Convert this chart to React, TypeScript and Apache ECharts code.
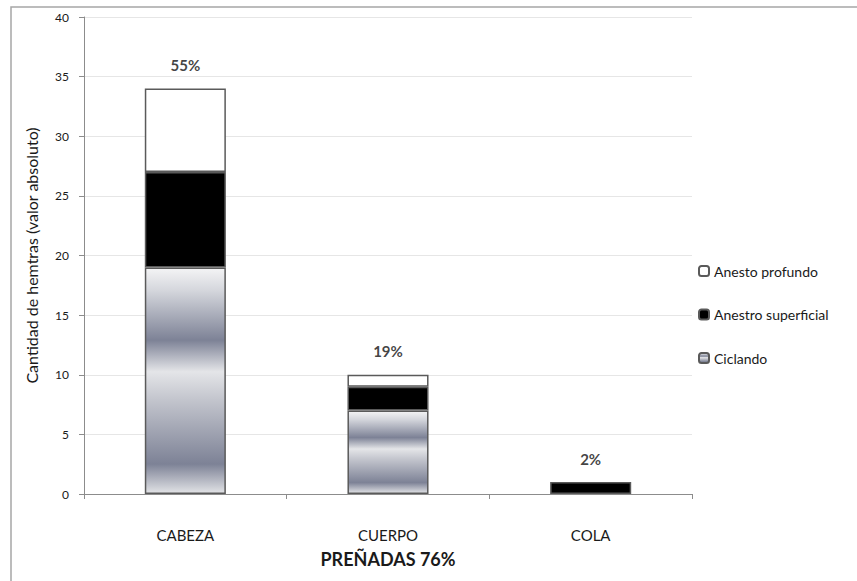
import React, { useEffect, useRef } from "react";
import * as echarts from "echarts";

const categories = ["CABEZA", "CUERPO", "COLA"];
const ciclando = [19, 7, 0];
const anestroSuperficial = [8, 2, 1];
const anestoProfundo = [7, 1, 0];
const totals = [34, 10, 1];
const percentLabels = ["55%", "19%", "2%"];
const yTicks = [0, 5, 10, 15, 20, 25, 30, 35, 40];

const FONT = "Lato, 'Open Sans', sans-serif";

export default function App() {
  const ref = useRef<HTMLDivElement>(null);
  useEffect(() => {
    if (!ref.current) return;
    const chart = echarts.init(ref.current, undefined, { renderer: "svg" });
    const steel = new echarts.graphic.LinearGradient(0, 0, 0, 1, [
      { offset: 0, color: "#f4f4f5" },
      { offset: 0.1, color: "#d4d6dc" },
      { offset: 0.32, color: "#7d8296" },
      { offset: 0.46, color: "#e4e5e8" },
      { offset: 0.58, color: "#c4c6ce" },
      { offset: 0.87, color: "#7d8296" },
      { offset: 1, color: "#e2e3e6" },
    ]);
    const border = { borderColor: "#5a5a5a", borderWidth: 1.5 };
    chart.setOption({
      animation: false,
      backgroundColor: "#ffffff",
      textStyle: { fontFamily: FONT },
      graphic: [
        {
          type: "rect",
          shape: { x: 11, y: 7, width: 900, height: 700 },
          style: { fill: "none", stroke: "#a6a6a6", lineWidth: 1.5 },
          silent: true,
        },
      ],
      grid: { left: 84, right: 165, top: 17, bottom: 87 },
      legend: {
        orient: "vertical",
        left: 693,
        top: 259,
        itemWidth: 10,
        itemHeight: 10,
        itemGap: 29.5,
        data: ["Anesto profundo", "Anestro superficial", "Ciclando"],
        textStyle: { fontFamily: FONT, fontSize: 14, color: "#1a1a1a" },
      },
      xAxis: {
        type: "category",
        data: categories,
        name: "PREÑADAS 76%",
        nameLocation: "middle",
        nameGap: 56,
        nameTextStyle: { fontFamily: FONT, fontSize: 18, fontWeight: "bold", color: "#1a1a1a" },
        axisLine: { lineStyle: { color: "#8c8c8c" } },
        axisTick: { show: true, length: 5, lineStyle: { color: "#8c8c8c" } },
        axisLabel: { margin: 33, fontSize: 15, color: "#1a1a1a", fontFamily: FONT },
      },
      yAxis: {
        type: "value",
        min: yTicks[0],
        max: yTicks[yTicks.length - 1],
        interval: 5,
        name: "Cantidad de hemtras (valor absoluto)",
        nameLocation: "middle",
        nameGap: 45,
        nameTextStyle: { fontFamily: FONT, fontSize: 16, color: "#1a1a1a" },
        axisLine: { show: true, lineStyle: { color: "#8c8c8c" } },
        axisTick: { show: true, length: 5, lineStyle: { color: "#8c8c8c" } },
        axisLabel: { margin: 15, fontSize: 12, color: "#1a1a1a", fontFamily: FONT },
        splitLine: { lineStyle: { color: "#e6e6e6" } },
      },
      series: [
        {
          name: "Ciclando",
          type: "bar",
          stack: "t",
          barWidth: "40%",
          data: ciclando.map((v) => (v === 0 ? null : v)),
          itemStyle: { color: steel, ...border },
        },
        {
          name: "Anestro superficial",
          type: "bar",
          stack: "t",
          data: anestroSuperficial.map((v) => (v === 0 ? null : v)),
          itemStyle: { color: "#000000", ...border },
        },
        {
          name: "Anesto profundo",
          type: "bar",
          stack: "t",
          data: anestoProfundo.map((v) => (v === 0 ? null : v)),
          itemStyle: { color: "#ffffff", ...border },
        },
        {
          name: "totals",
          type: "scatter",
          symbolSize: 0,
          data: totals,
          silent: true,
          label: {
            show: true,
            position: "top",
            distance: 16,
            fontFamily: FONT,
            fontSize: 15,
            fontWeight: "bold",
            color: "#111111",
            formatter: (p: any) => percentLabels[p.dataIndex],
          },
        },
      ],
    });
    return () => chart.dispose();
  }, []);
  return (
    <div
      ref={ref}
      style={{ position: "fixed", left: 0, top: 0, width: 857, height: 581 }}
    />
  );
}
